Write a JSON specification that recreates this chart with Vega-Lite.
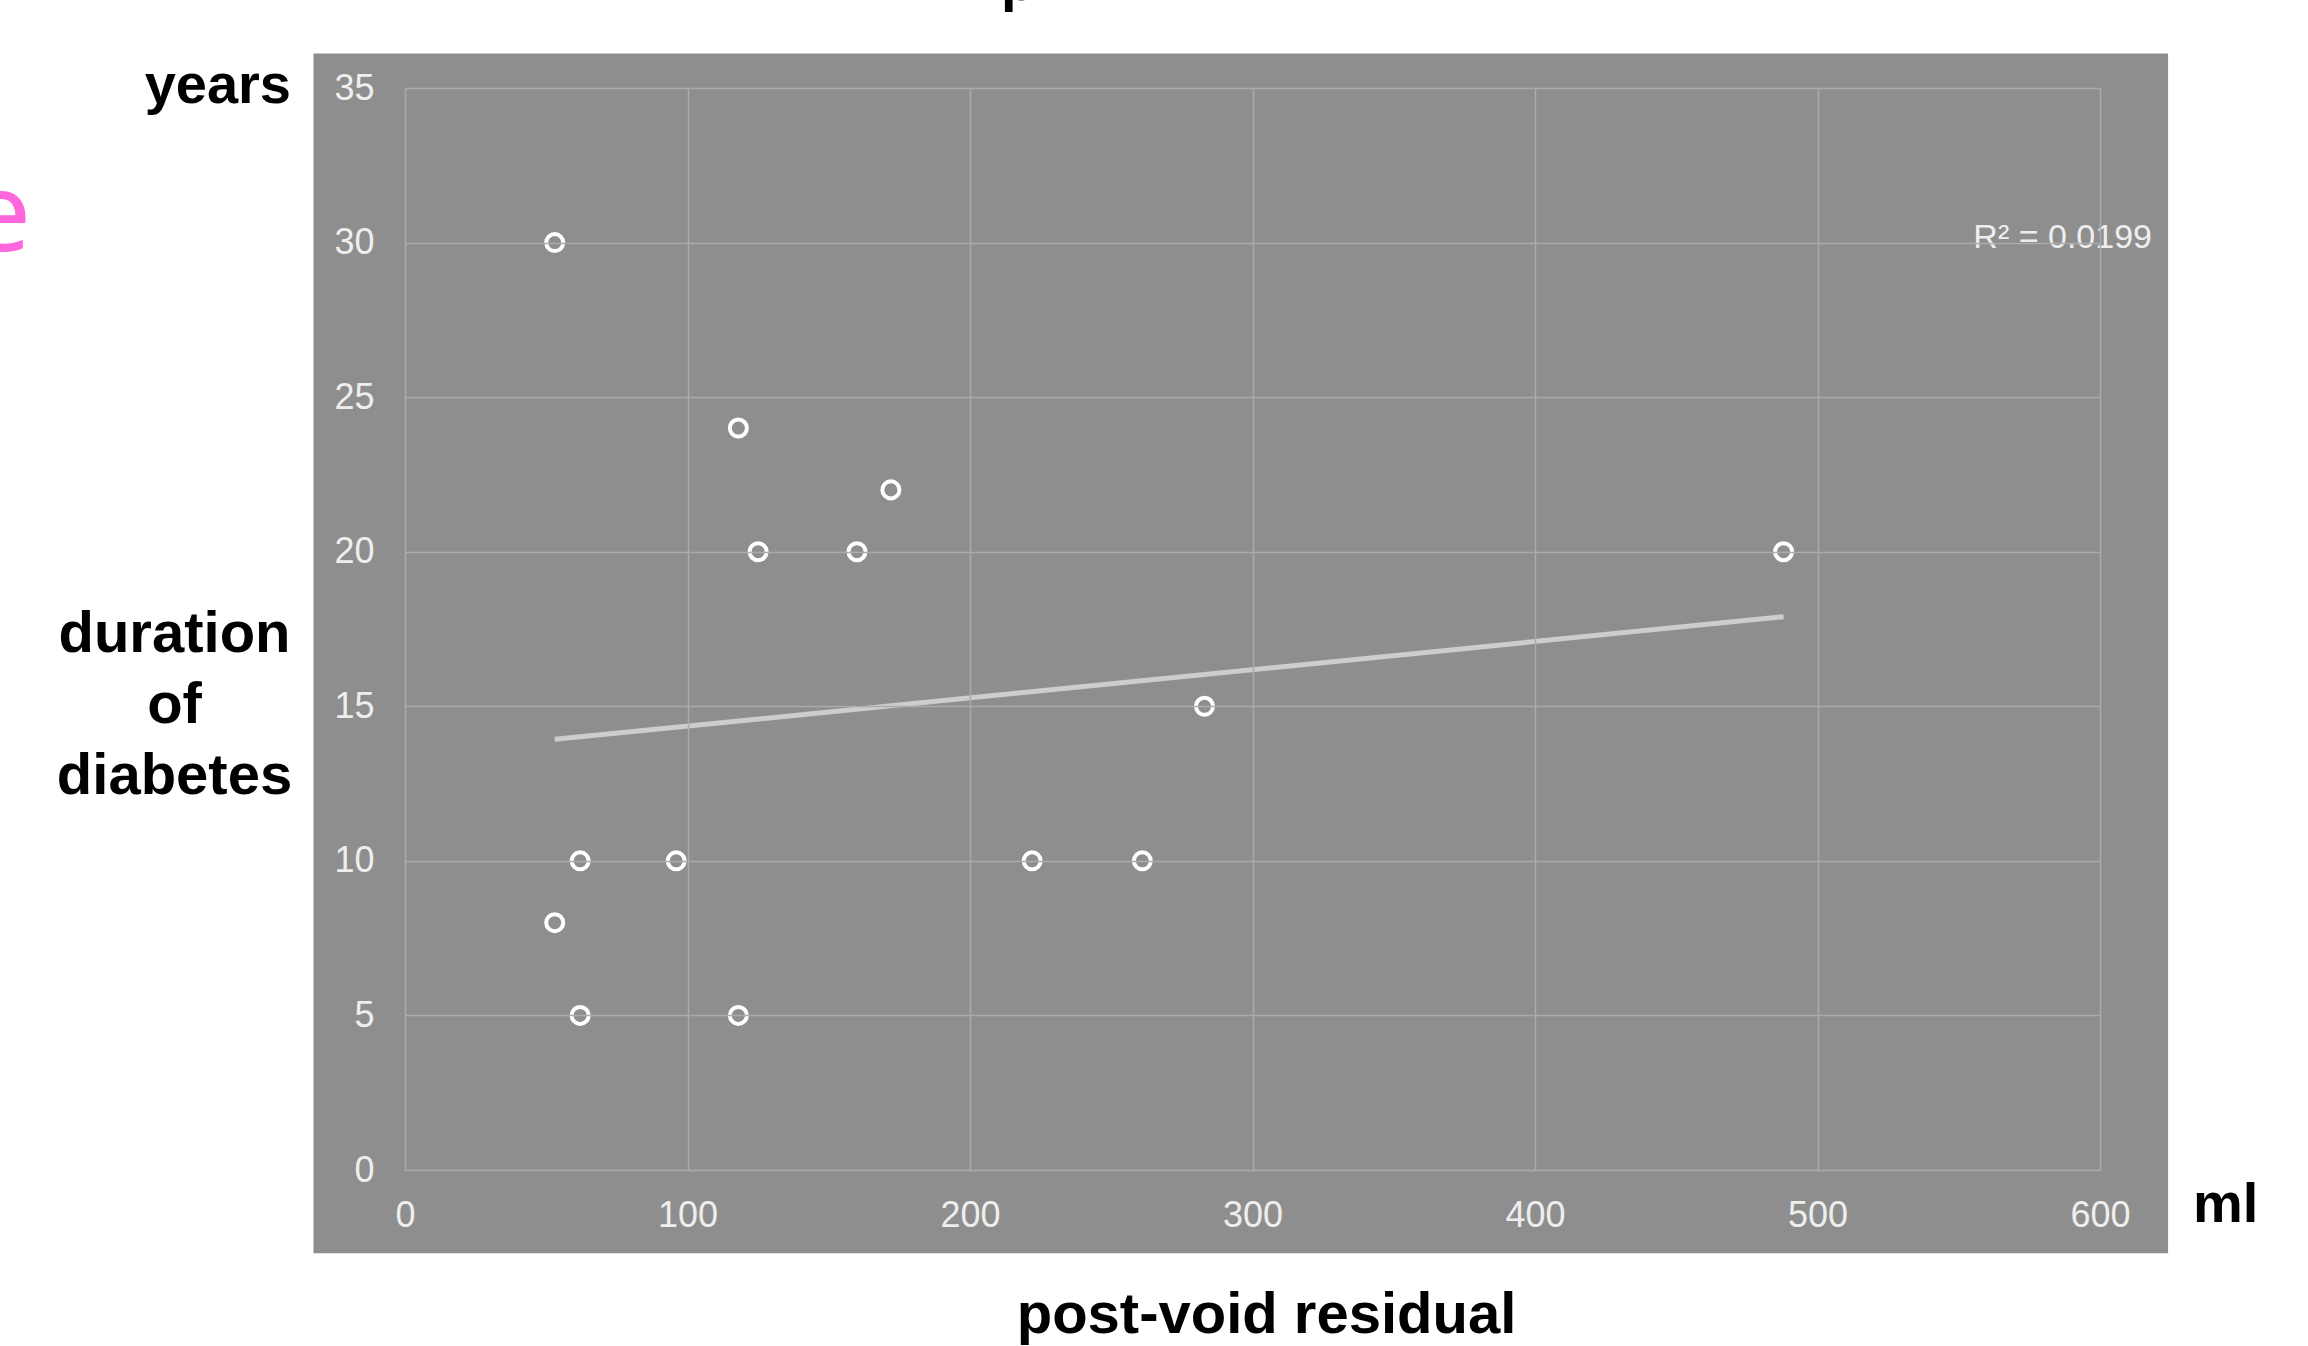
{
  "$schema": "https://vega.github.io/schema/vega-lite/v6.json",
  "width": 1695,
  "height": 1082,
  "autosize": {"type": "none"},
  "padding": {"left": 405, "top": 88, "right": 208, "bottom": 176},
  "background": "white",
  "view": {"stroke": null},
  "config": {
    "axis": {
      "domain": false,
      "ticks": false,
      "grid": true,
      "gridColor": "#ababab",
      "gridWidth": 1.5,
      "labelColor": "#eeeeee",
      "labelFont": "Liberation Sans",
      "labelFontSize": 36,
      "labelFlush": false,
      "titleFont": "Liberation Sans",
      "titleFontSize": 58,
      "titleFontWeight": "bold",
      "titleColor": "black"
    }
  },
  "data": {
    "values": [
      {"pvr": 53, "duration": 30},
      {"pvr": 118, "duration": 24},
      {"pvr": 172, "duration": 22},
      {"pvr": 125, "duration": 20},
      {"pvr": 160, "duration": 20},
      {"pvr": 488, "duration": 20},
      {"pvr": 283, "duration": 15},
      {"pvr": 62, "duration": 10},
      {"pvr": 96, "duration": 10},
      {"pvr": 222, "duration": 10},
      {"pvr": 261, "duration": 10},
      {"pvr": 53, "duration": 8},
      {"pvr": 62, "duration": 5},
      {"pvr": 118, "duration": 5}
    ]
  },
  "layer": [
    {
      "data": {"values": [{}]},
      "mark": {"type": "rect", "color": "#8e8e8e"},
      "encoding": {
        "x": {
          "datum": -32.4,
          "type": "quantitative",
          "scale": {"domain": [0, 600], "nice": false, "zero": false},
          "axis": {
            "zindex": 1,
            "values": [0, 100, 200, 300, 400, 500, 600],
            "labelPadding": 28,
            "title": "post-void residual",
            "titleAngle": 0,
            "titleAlign": "center",
            "titleBaseline": "alphabetic",
            "titleX": 861,
            "titleY": 162
          }
        },
        "x2": {"datum": 624.1},
        "y": {
          "datum": -2.69,
          "type": "quantitative",
          "scale": {"domain": [0, 35], "nice": false, "zero": false},
          "axis": {
            "zindex": 1,
            "values": [0, 5, 10, 15, 20, 25, 30, 35],
            "labelPadding": 31,
            "title": ["duration", "of", "diabetes"],
            "titleAngle": 0,
            "titleAlign": "center",
            "titleBaseline": "middle",
            "titleLineHeight": 71,
            "titleX": -231,
            "titleY": 546
          }
        },
        "y2": {"datum": 36.12}
      }
    },
    {
      "transform": [{"regression": "duration", "on": "pvr"}],
      "mark": {"type": "line", "color": "#cdcdcd", "strokeWidth": 5},
      "encoding": {
        "x": {"field": "pvr", "type": "quantitative"},
        "y": {"field": "duration", "type": "quantitative"}
      }
    },
    {
      "mark": {"type": "point", "shape": "circle", "filled": true, "fill": "#8e8e8e", "stroke": "white", "strokeWidth": 4, "size": 290, "opacity": 1},
      "encoding": {
        "x": {"field": "pvr", "type": "quantitative"},
        "y": {"field": "duration", "type": "quantitative"}
      }
    },
    {
      "data": {"values": [{}]},
      "mark": {"type": "text", "text": "years", "align": "right", "baseline": "alphabetic", "font": "Liberation Sans", "fontWeight": "bold", "fontSize": 56, "color": "black"},
      "encoding": {
        "x": {"datum": -40.35, "type": "quantitative"},
        "y": {"datum": 34.53, "type": "quantitative"}
      }
    },
    {
      "data": {"values": [{}]},
      "mark": {"type": "text", "text": "ml", "align": "left", "baseline": "alphabetic", "font": "Liberation Sans", "fontWeight": "bold", "fontSize": 56, "color": "black"},
      "encoding": {
        "x": {"datum": 632.9, "type": "quantitative"},
        "y": {"datum": -1.68, "type": "quantitative"}
      }
    },
    {
      "data": {"values": [{}]},
      "mark": {"type": "text", "text": "p", "align": "left", "baseline": "alphabetic", "font": "Liberation Sans", "fontWeight": "bold", "fontSize": 56, "color": "black"},
      "encoding": {
        "x": {"datum": 211, "type": "quantitative"},
        "y": {"datum": 37.86, "type": "quantitative"}
      }
    },
    {
      "data": {"values": [{}]},
      "mark": {"type": "text", "text": "R² = 0.0199", "align": "right", "baseline": "alphabetic", "font": "Liberation Sans", "fontSize": 34, "color": "#eeeeee"},
      "encoding": {
        "x": {"datum": 618.4, "type": "quantitative"},
        "y": {"datum": 29.84, "type": "quantitative"}
      }
    },
    {
      "data": {"values": [{}]},
      "mark": {"type": "text", "text": "e", "align": "right", "baseline": "alphabetic", "font": "Noto Sans", "fontSize": 110, "color": "#ff66dd"},
      "encoding": {
        "x": {"datum": -132.4, "type": "quantitative"},
        "y": {"datum": 29.74, "type": "quantitative"}
      }
    }
  ]
}
